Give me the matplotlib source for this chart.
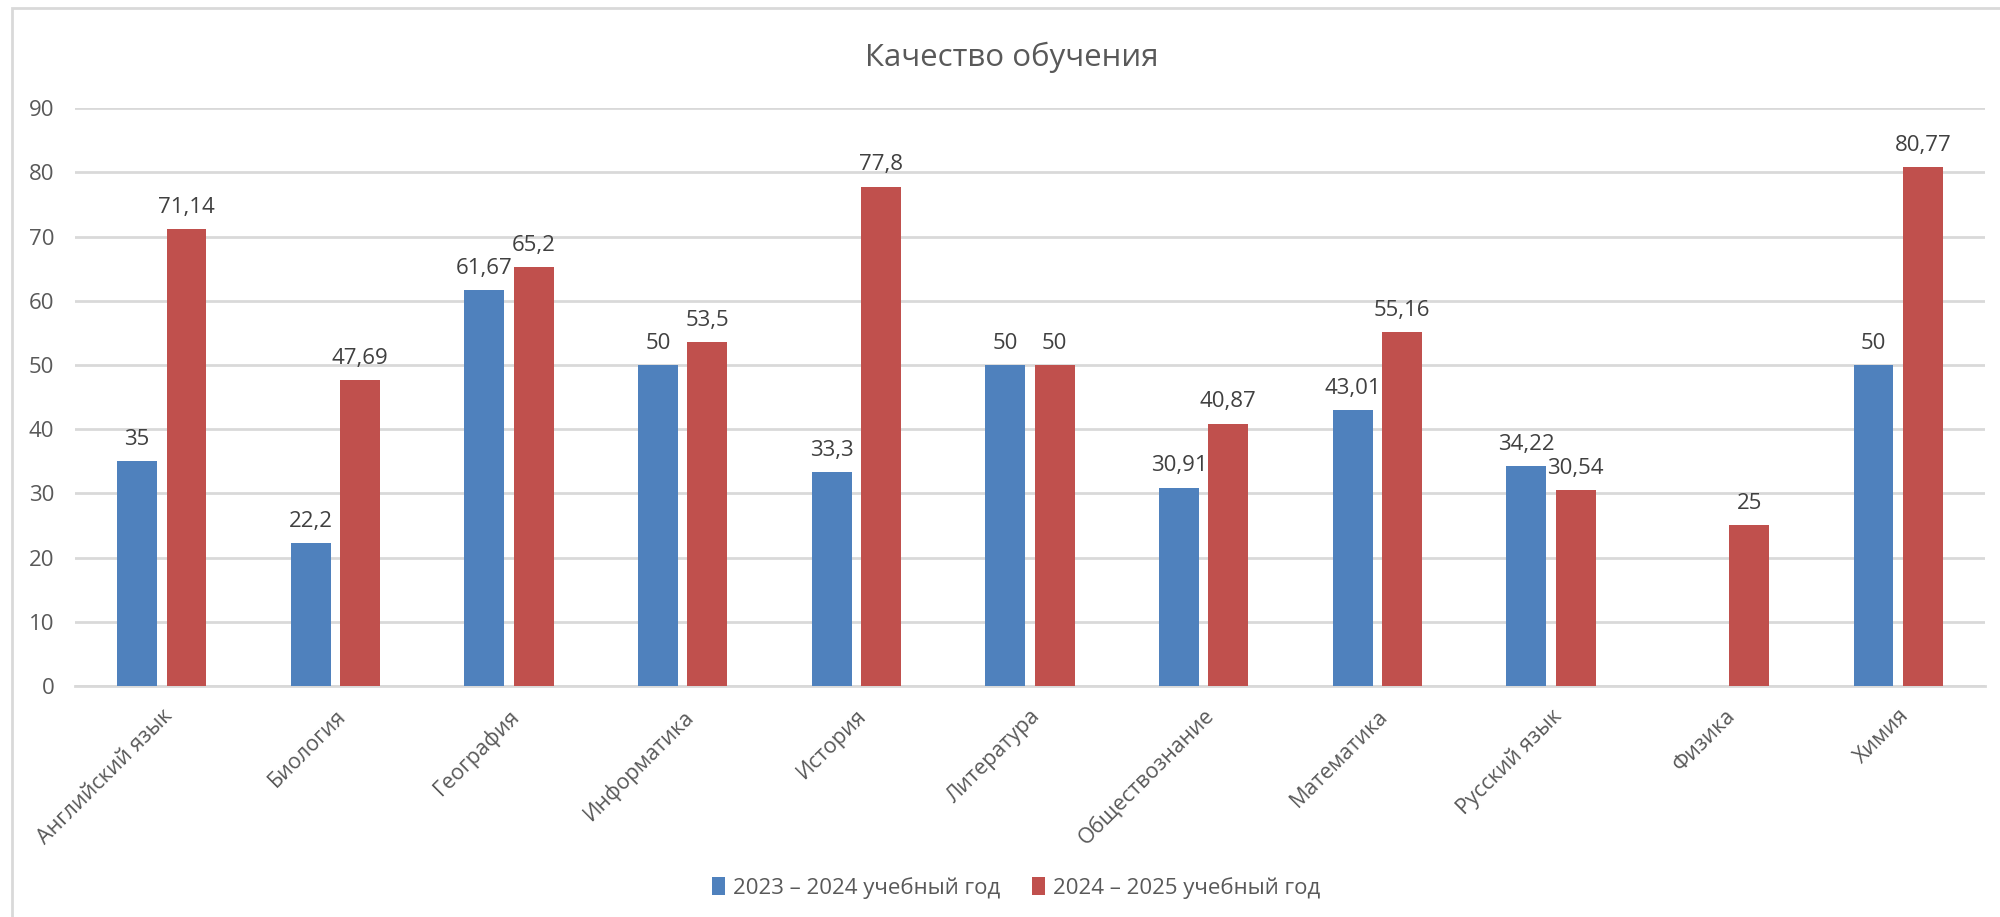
import numpy as np
import matplotlib
matplotlib.use("Agg")
import matplotlib.pyplot as plt
from matplotlib.patches import Rectangle

plt.rcParams["font.family"] = ["Open Sans", "DejaVu Sans"]

subjects = [
    "Английский язык", "Биология", "География", "Информатика", "История",
    "Литература", "Обществознание", "Математика", "Русский язык", "Физика", "Химия",
]
year_2023 = [35, 22.2, 61.67, 50, 33.3, 50, 30.91, 43.01, 34.22, np.nan, 50]
year_2024 = [71.14, 47.69, 65.2, 53.5, 77.8, 50, 40.87, 55.16, 30.54, 25, 80.77]
series_names = ["2023 – 2024 учебный год", "2024 – 2025 учебный год"]

blue = "#4f81bd"
red = "#c0504d"
grid_c = "#d9d9d9"
text_c = "#595959"
label_c = "#404040"

fig = plt.figure(figsize=(20, 9.17), dpi=100)
ax = fig.add_axes([0.0375, 0.252, 0.955, 0.630])

x = np.arange(len(subjects))
w = 0.23
b1 = ax.bar(x - 0.142, year_2023, w, color=blue, zorder=3)
b2 = ax.bar(x + 0.142, year_2024, w, color=red, zorder=3)


def fmt(v):
    if np.isnan(v):
        return ""
    return f"{v:g}".replace(".", ",")


ax.bar_label(b1, labels=[fmt(v) for v in year_2023], padding=8,
             fontsize=16, color=label_c)
ax.bar_label(b2, labels=[fmt(v) for v in year_2024], padding=8,
             fontsize=16, color=label_c)

ax.set_xlim(-0.5, len(subjects) - 0.5)
ax.set_ylim(0, 90)
ax.set_yticks(range(0, 91, 10))
ax.yaxis.grid(True, color=grid_c, linewidth=2)
ax.set_axisbelow(True)
for s in ["top", "right", "left"]:
    ax.spines[s].set_visible(False)
ax.spines["bottom"].set_color(grid_c)
ax.spines["bottom"].set_linewidth(2)
ax.tick_params(axis="both", length=0, colors=text_c)
ax.tick_params(axis="y", pad=15, labelsize=16)
ax.set_xticks(x)
ax.set_xticklabels(subjects, rotation=45, ha="right", rotation_mode="anchor")
ax.tick_params(axis="x", pad=14, labelsize=15.5)

fig.text(0.506, 0.938, "Качество обучения", ha="center", va="center",
         fontsize=22.5, color=text_c)

fig.legend([b1, b2], series_names, loc="center", ncol=2,
           bbox_to_anchor=(0.508, 0.032), frameon=False, fontsize=16,
           handlelength=0.6, handleheight=0.9, handletextpad=0.35,
           columnspacing=1.4, labelcolor=text_c)

fig.patches.append(Rectangle((0.006, -0.1), 1.2, 0.1 + 0.991,
                             transform=fig.transFigure, fill=False,
                             edgecolor=grid_c, linewidth=2))

fig.savefig("out.png", dpi=100, facecolor="white")
